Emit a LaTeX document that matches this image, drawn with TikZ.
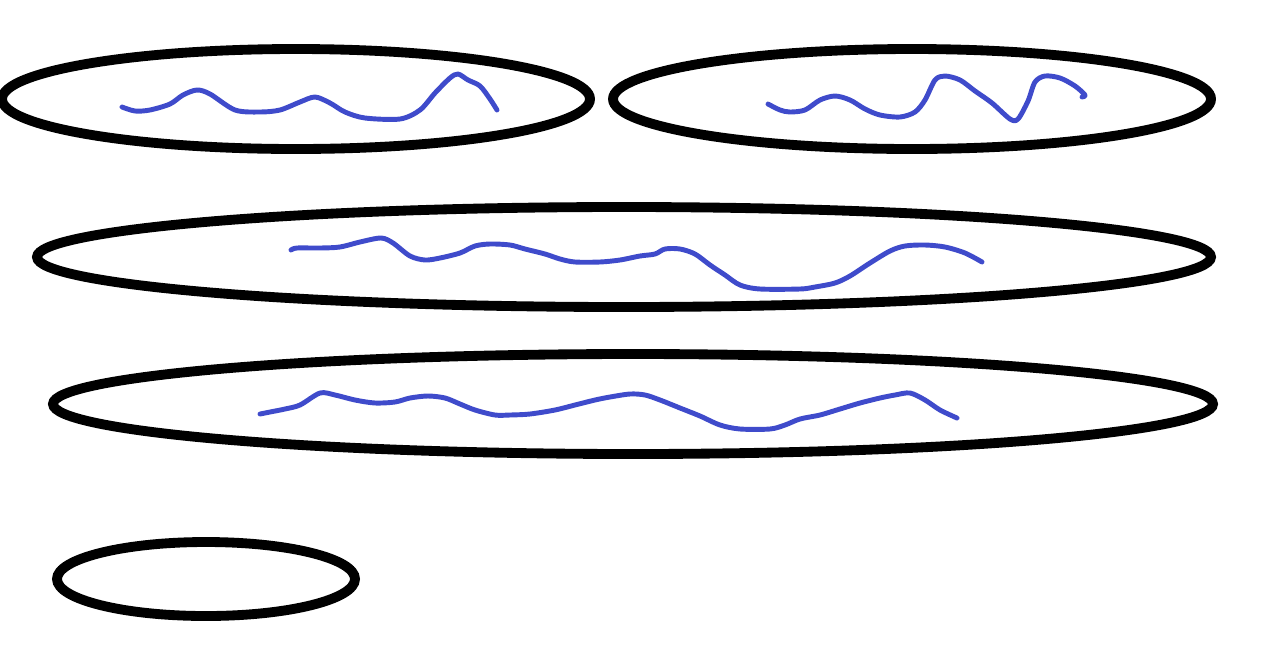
\documentclass[tikz,border=0pt]{standalone}
\definecolor{skInk}{HTML}{000000}
\definecolor{skBlue}{HTML}{3F4BCB}
\tikzset{
  sk ring/.style={draw=skInk, line width=5.6pt},
  sk wave/.style={draw=skBlue, line width=2.8pt, line cap=round, line join=round},
}
\begin{document}
\begin{tikzpicture}[x=0.02cm, y=-0.02cm]
  \useasboundingbox (0,0) rectangle (1284,650);

  % Rings
  \draw[sk ring] (296,99) ellipse [x radius=294, y radius=50];
  \draw[sk ring] (912,99) ellipse [x radius=299, y radius=50];
  \draw[sk ring] (624,257) ellipse [x radius=587, y radius=50];
  \draw[sk ring] (633,404) ellipse [x radius=580, y radius=50];
  \draw[sk ring] (206,579) ellipse [x radius=149, y radius=37];

  % Scribbles inside the rings
  \draw[sk wave] plot[smooth, tension=0.5] coordinates {(122,107) (135,111) (150,110) (170,104) (183,95) (197,90) (210,94) (235,110) (260,112) (280,110) (300,102) (315,97) (330,103) (345,112) (365,118) (400,119) (420,110) (435,93) (450,78) (458,74) (468,80) (480,86) (490,99) (497,110)};
  \draw[sk wave] plot[smooth, tension=0.5] coordinates {(768,104) (780,110) (790,112) (805,110) (820,100) (835,96) (850,100) (865,109) (880,115) (900,117) (915,112) (925,100) (935,80) (945,76) (960,80) (975,91) (992,103) (1010,119) (1018,119) (1028,101) (1035,82) (1045,76) (1060,78) (1075,86) (1085,95) (1082,97)};
  \draw[sk wave] plot[smooth, tension=0.5] coordinates {(291,250) (297,248) (320,248) (340,247) (360,242) (381,238) (393,243) (410,256) (425,260) (440,258) (460,253) (475,246) (490,244) (510,245) (525,249) (545,254) (560,259) (575,262) (600,262) (620,260) (640,256) (655,254) (665,249) (680,249) (695,254) (710,265) (725,275) (740,285) (760,289) (800,289) (815,287) (835,283) (850,276) (870,263) (890,251) (905,246) (925,245) (945,247) (965,253) (982,262)};
  \draw[sk wave] plot[smooth, tension=0.5] coordinates {(260,414) (270,412) (285,409) (300,405) (320,393) (335,395) (355,400) (375,403) (395,402) (410,398) (428,396) (445,398) (460,404) (475,410) (495,415) (510,415) (530,414) (555,410) (575,405) (595,400) (610,397) (630,394) (645,395) (660,400) (680,408) (700,416) (720,425) (740,429) (770,429) (785,425) (800,419) (820,415) (840,409) (860,403) (880,398) (895,395) (910,393) (925,400) (940,410) (957,418)};
\end{tikzpicture}
\end{document}
